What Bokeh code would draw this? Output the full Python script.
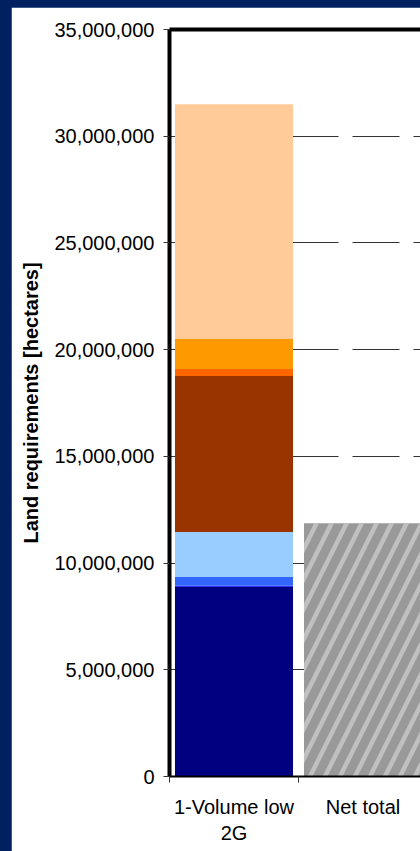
from bokeh.plotting import figure
from bokeh.models import (ColumnDataSource, Range1d, FixedTicker, LinearAxis,
                          NumeralTickFormatter)
from bokeh.layouts import column
from bokeh.embed import file_html
from bokeh.resources import INLINE

# ---- data ----
categories = ["1-Volume low\n2G", "Net total"]
seg_names = ["s1", "s2", "s3", "s4", "s5", "s6", "s7", "s8"]
seg_values = [8.89e6, 0.05e6, 0.41e6, 2.11e6, 7.30e6, 0.33e6, 1.41e6, 11.00e6]
seg_colors = ["#000080", "#0000FF", "#3366FF", "#99CCFF", "#993300",
              "#FF6600", "#FF9900", "#FFCC99"]
net_total = [11.86e6]
y_ticks = [0, 5e6, 10e6, 15e6, 20e6, 25e6, 30e6, 35e6]

NAVY = "#002060"
FONT = "Liberation Sans"

centers = [i + 0.5 for i in range(len(categories))]
bounds = list(range(len(categories) + 1))

p = figure(width=409, height=844, output_backend="svg", toolbar_location=None,
           x_range=Range1d(0, 1.9457), y_range=Range1d(0, 35e6),
           min_border_left=158, min_border_top=22, min_border_bottom=75,
           min_border_right=0, x_axis_location=None)
p.margin = (7, 0, 0, 11)
p.background_fill_color = "white"
p.border_fill_color = "white"
p.outline_line_color = None

src = ColumnDataSource({"x": [centers[0]], **{n: [v] for n, v in zip(seg_names, seg_values)}})
p.vbar_stack(seg_names, x="x", width=0.915, color=seg_colors, line_color=None, source=src)

p.vbar(x=[centers[1]], top=net_total, width=0.915, fill_color="#999999", line_color=None,
       hatch_pattern="/", hatch_color="#c0c0c0", hatch_scale=30, hatch_weight=4.5)

# grid
p.xgrid.grid_line_color = None
p.ygrid.ticker = FixedTicker(ticks=y_ticks)
p.ygrid.grid_line_color = "#333333"
p.ygrid.grid_line_width = 1
p.ygrid.grid_line_dash = "47 14"

# y axis
ya = p.yaxis[0]
ya.ticker = FixedTicker(ticks=y_ticks)
ya.formatter = NumeralTickFormatter(format="0,0")
ya.axis_line_color = "black"
ya.axis_line_width = 4
ya.major_tick_line_color = "#333333"
ya.major_tick_out = 6
ya.major_tick_in = 0
ya.minor_tick_line_color = None
ya.major_label_text_font = FONT
ya.major_label_text_font_size = "20px"
ya.major_label_text_color = "black"
ya.major_label_standoff = 9
ya.axis_label = "Land requirements [hectares]"
ya.axis_label_text_font = FONT
ya.axis_label_text_font_size = "20px"
ya.axis_label_text_font_style = "bold"
ya.axis_label_text_color = "black"
ya.axis_label_standoff = 9

# bottom axis: labels at category centres, ticks at category boundaries
la = LinearAxis(ticker=FixedTicker(ticks=centers, minor_ticks=bounds),
                major_label_overrides={c: lab for c, lab in zip(centers, categories)})
la.axis_line_color = "black"
la.axis_line_width = 2
la.major_tick_line_color = None
la.major_tick_out = 6
la.major_tick_in = 0
la.minor_tick_line_color = "#333333"
la.minor_tick_out = 6
la.minor_tick_in = 0
la.major_label_text_font = FONT
la.major_label_text_font_size = "20px"
la.major_label_text_color = "black"
la.major_label_standoff = 13
p.add_layout(la, "below")

# top border
ta = LinearAxis(ticker=FixedTicker(ticks=[]))
ta.axis_line_color = "black"
ta.axis_line_width = 4
ta.major_tick_line_color = None
ta.minor_tick_line_color = None
p.add_layout(ta, "above")

lay = column(p, styles={"background-color": NAVY})
open("out.html", "w").write(file_html(lay, INLINE))
